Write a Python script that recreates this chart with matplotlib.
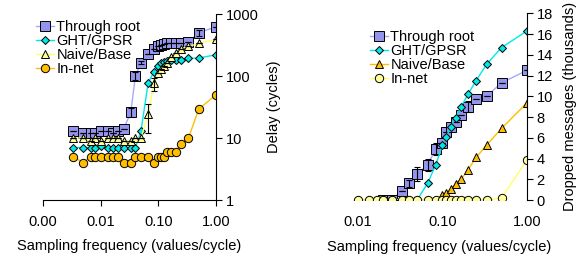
import numpy as np
import matplotlib
matplotlib.use('Agg')
import matplotlib.pyplot as plt

plt.rcParams['font.family'] = 'Liberation Sans'
plt.rcParams['font.size'] = 10.5

# Sampling frequencies (values/cycle)
freq_left = [1/300, 1/200, 1/150, 1/125, 1/100, 1/75, 1/60, 1/50, 1/40, 1/30, 1/25, 1/20,
             1/15, 1/12, 1/10, 1/9, 1/8, 1/7, 1/6, 1/5, 1/4, 1/3, 1/2, 1]
freq_right = [1/100, 1/75, 1/60, 1/50, 1/40, 1/30, 1/25, 1/20, 1/15, 1/12, 1/10, 1/9, 1/8,
              1/7, 1/6, 1/5, 1/4, 1/3, 1/2, 1]

# Left: delay (cycles)
delay_root = [13, 12, 12, 12, 13, 13, 12, 13, 14, 26, 100, 165, 225, 275, 300, 320, 330, 337,
              340, 345, 345, 350, 500, 620]
delay_root_err = [0, 0, 0, 0, 0, 0, 0, 0, 0, 4, 15, 10, 0, 0, 0, 0, 0, 0, 0, 0, 0, 0, 60, 0]
delay_ght = [7, 7, 7, 7, 7.5, 7, 7, 7, 7, 7, 7, 13, 78, 115, 145, 160, 170, 175, 178, 180, 182,
             192, 195, 220]
delay_naive = [10, 10, 9, 10, 9, 10, 10, 10, 9, 9, 10, 10, 24, 76, 110, 128, 145, 165, 200,
               235, 275, 300, 335, 390]
delay_naive_err = [0, 0, 0, 0, 0, 0, 0, 0, 0, 0, 0, 0, 12, 18, 0, 0, 0, 0, 0, 0, 0, 0, 0, 0]
delay_innet = [5, 4, 5, 5, 5, 5, 5, 5, 4, 4, 5, 5, 5, 4, 5, 5, 5, 6, 6, 6, 8, 10, 29, 50]

# Right: dropped messages (thousands)
drop_root = [0, 0, 0.9, 1.6, 2.5, 3.4, 4.9, 5.5, 6.6, 7.0, 7.5, 8.2, 9.0, 9.7, 10.0, 11.3, 12.5]
drop_root_err = [0, 0, 0, 0.3, 0.7, 0.6, 0.6, 0, 0, 0, 0, 0, 0.5, 0, 0, 0, 0]
drop_ght = [0, 0, 0, 0, 0, 0, 0, 0, 1.6, 3.4, 5.3, 6.1, 7.05, 7.95, 9.0, 10.2, 11.5, 13.1,
            14.7, 16.3]
drop_naive = [0, 0, 0, 0, 0, 0, 0, 0, 0, 0, 0.48, 0.7, 1.03, 1.54, 2.0, 2.9, 4.1, 5.3, 6.9, 9.37]
drop_innet = [0, 0, 0, 0, 0, 0, 0, 0, 0, 0, 0, 0, 0, 0, 0, 0, 0, 0, 0.2, 3.85]

labels = ['Through root', 'GHT/GPSR', 'Naive/Base', 'In-net']

PURPLE = '#9494ec'
PURPLE_LINE = '#a8a8ff'
CYAN = '#00e8e8'
PALE = '#ffff99'
ORANGE = '#ffbf00'

W, H = 580, 254


def series(ax, x, y, marker, face, line, ms, label, err=None):
    ax.plot(x, y, '-', color=line, lw=1.0, marker=marker, ms=ms, mfc=face, mec='black',
            mew=0.7, label=label)
    if err is not None:
        ax.errorbar(x, y, yerr=err, fmt='none', ecolor='black', elinewidth=0.8, capsize=2,
                    capthick=0.8)


def style_axes(ax):
    ax.spines['left'].set_visible(False)
    ax.spines['top'].set_visible(False)
    ax.yaxis.tick_right()
    ax.yaxis.set_label_position('right')
    ax.minorticks_off()
    ax.tick_params(direction='out', length=4, width=0.8, pad=3)


fig = plt.figure(figsize=(W / 100, H / 100), dpi=100)

# ---- left panel: delay
ax1 = fig.add_axes([43 / W, 1 - 200 / H, (216 - 43) / W, (200 - 14) / H])
series(ax1, freq_left, delay_root, 's', PURPLE, PURPLE_LINE, 6.8, labels[0], delay_root_err)
series(ax1, freq_left, delay_ght, 'D', CYAN, CYAN, 4.2, labels[1])
series(ax1, freq_left, delay_naive, '^', PALE, '#ffff66', 5.5, labels[2], delay_naive_err)
series(ax1, freq_left, delay_innet, 'o', ORANGE, ORANGE, 6, labels[3])
ax1.set_xscale('log')
ax1.set_yscale('log')
ax1.set_xlim(0.001, 1)
ax1.set_ylim(1, 1000)
style_axes(ax1)
ax1.set_xticks([0.001, 0.01, 0.1, 1])
ax1.set_xticklabels(['0.00', '0.01', '0.10', '1.00'])
ax1.set_yticks([1, 10, 100, 1000])
ax1.set_yticklabels(['1', '10', '100', '1000'])
ax1.minorticks_off()
ax1.tick_params(axis='x', pad=6.6)
ax1.set_xlabel('Sampling frequency (values/cycle)', labelpad=7.5)
ax1.set_ylabel('Delay (cycles)', labelpad=6)
ax1.legend(loc='upper left', bbox_to_anchor=(36 / W, 1 - 20 / H), bbox_transform=fig.transFigure,
           frameon=False, borderpad=0, borderaxespad=0, handlelength=1.2, handletextpad=0.2,
           labelspacing=0.0)

# ---- right panel: dropped messages
ax2 = fig.add_axes([352 / W, 1 - 200 / H, (527 - 352) / W, (200 - 13.3) / H])
series(ax2, freq_right[3:], drop_root, 's', PURPLE, PURPLE_LINE, 6.8, labels[0], drop_root_err)
series(ax2, freq_right, drop_ght, 'D', CYAN, CYAN, 4.2, labels[1])
series(ax2, freq_right, drop_naive, '^', ORANGE, ORANGE, 5.5, labels[2])
series(ax2, freq_right, drop_innet, 'o', PALE, '#ffff66', 6, labels[3])
ax2.set_xscale('log')
ax2.set_xlim(0.0085, 1)
ax2.set_ylim(0, 18)
style_axes(ax2)
ax2.spines['bottom'].set_visible(False)
ax2.set_xticks([0.01, 0.1, 1])
ax2.set_xticklabels(['0.01', '0.10', '1.00'])
ax2.minorticks_off()
ax2.tick_params(axis='x', length=0, pad=11)
ax2.set_yticks(np.arange(0, 19, 2))
ax2.set_xlabel('Sampling frequency (values/cycle)', labelpad=8)
ax2.set_ylabel('Dropped messages (thousands)', labelpad=7)
ax2.legend(loc='upper left', bbox_to_anchor=(370 / W, 1 - 30 / H), bbox_transform=fig.transFigure,
           frameon=False, borderpad=0, borderaxespad=0, handlelength=1.2, handletextpad=0.2,
           labelspacing=0.0)

fig.savefig('out.png', dpi=100)
